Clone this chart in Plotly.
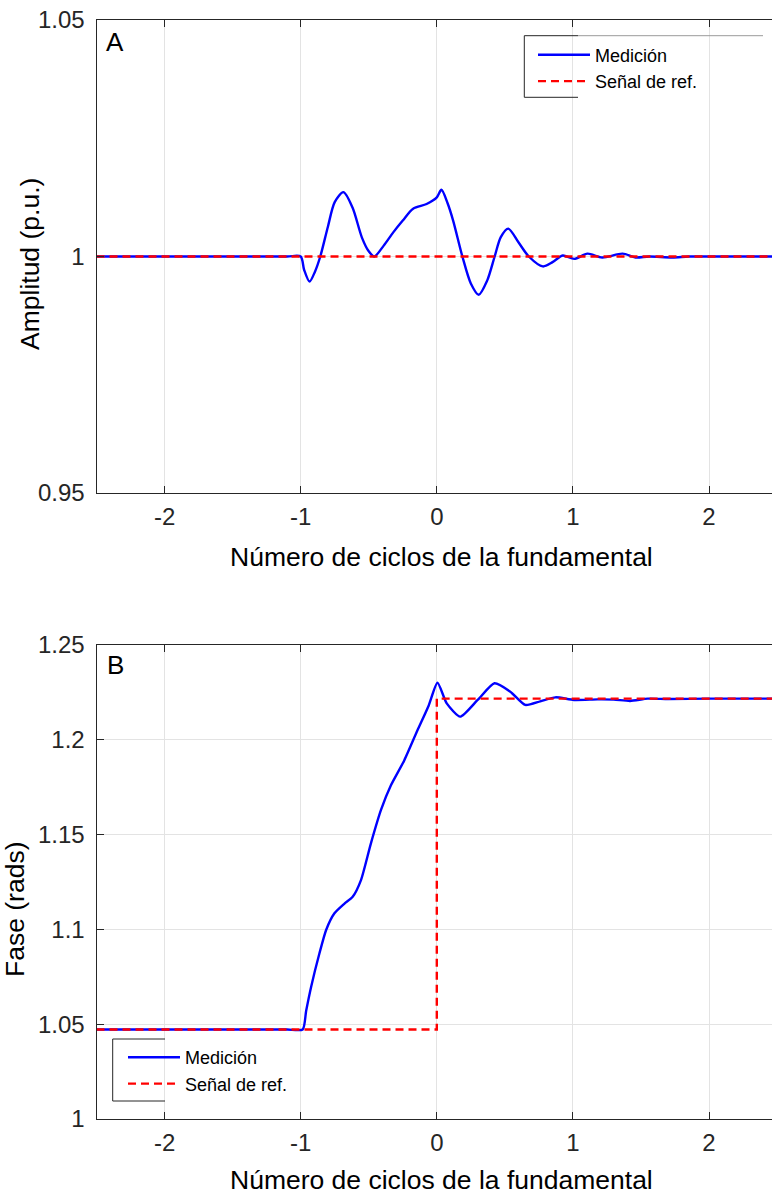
import plotly.graph_objects as go

W, H = 772, 1201

# ---------------- data ----------------
# Panel A: amplitude
amp_x = [-2.5, -2.0, -1.5, -1.1, -1.0, -0.975, -0.935, -0.895, -0.856, -0.8, -0.75, -0.686,
         -0.62, -0.55, -0.5, -0.459, -0.39, -0.32, -0.25, -0.174, -0.075, 0.0, 0.034, 0.08,
         0.12, 0.188, 0.25, 0.308, 0.37, 0.425, 0.47, 0.525, 0.6, 0.676, 0.779, 0.85, 0.925,
         1.01, 1.107, 1.215, 1.365, 1.46, 1.56, 1.73, 1.85, 2.0, 2.25, 2.5]
amp_meas = [1.0, 1.0, 1.0, 1.0, 1.0, 0.9972, 0.9947, 0.9968, 1.0, 1.0063, 1.0115, 1.0136,
            1.0104, 1.004, 1.0011, 1.0, 1.0023, 1.0051, 1.0076, 1.0101, 1.0111, 1.0125, 1.0141, 1.0112,
            1.0076, 1.0, 0.9943, 0.9919, 0.9949, 1.0, 1.0041, 1.0059, 1.003, 1.0, 0.9979, 0.9988, 1.0002,
            0.9995, 1.0006, 0.9998, 1.0006, 0.9998, 1.0, 0.9998, 1.0, 1.0, 1.0, 1.0]
amp_ref_x = [-2.5, 2.5]
amp_ref = [1.0, 1.0]

# Panel B: phase
ph_x = [-2.5, -2.0, -1.5, -1.1, -0.985, -0.96, -0.923, -0.862, -0.813, -0.752, -0.68, -0.618,
        -0.557, -0.484, -0.41, -0.337, -0.24, -0.142, -0.06, 0.005, 0.073, 0.172, 0.3, 0.424,
        0.54, 0.65, 0.76, 0.872, 1.007, 1.18, 1.3, 1.42, 1.55, 1.7, 2.0, 2.25, 2.5]
ph_meas = [1.0472, 1.0472, 1.0472, 1.0472, 1.0472, 1.057, 1.0698, 1.0874, 1.0997, 1.1085, 1.1135,
           1.1172, 1.126, 1.1454, 1.163, 1.176, 1.189, 1.205, 1.218, 1.2301, 1.2192, 1.2122, 1.221,
           1.2298, 1.2254, 1.2184, 1.2203, 1.2224, 1.221, 1.2213, 1.2212, 1.2205, 1.2217, 1.2215,
           1.2217, 1.2217, 1.2217]
ph_ref_x = [-2.5, 0.0, 0.0, 2.5]
ph_ref = [1.0472, 1.0472, 1.2217, 1.2217]

x_ticks = [-2, -1, 0, 1, 2]
x_ticktext = ["-2", "-1", "0", "1", "2"]
amp_ticks = [0.95, 1.0, 1.05]
amp_ticktext = ["0.95", "1", "1.05"]
ph_ticks = [1.0, 1.05, 1.1, 1.15, 1.2, 1.25]
ph_ticktext = ["1", "1.05", "1.1", "1.15", "1.2", "1.25"]

names = ["Medición", "Señal de ref."]
x_title = "Número de ciclos de la fundamental"

# ---------------- helpers ----------------
def px(x):
    return x / W

def py(y):
    return 1 - y / H

FONT = "Liberation Sans, Arial, sans-serif"
AX = "#262626"
GRID = "#e3e3e3"
BLUE = "#0000ff"
RED = "#ff0000"

fig = go.Figure()

fig.add_trace(go.Scatter(x=amp_x, y=amp_meas, mode="lines", name=names[0],
                         line=dict(color=BLUE, width=2.4, shape="spline", smoothing=0.8),
                         xaxis="x", yaxis="y", legend="legend"))
fig.add_trace(go.Scatter(x=amp_ref_x, y=amp_ref, mode="lines", name=names[1],
                         line=dict(color=RED, width=2.4, dash="8px,5px"),
                         xaxis="x", yaxis="y", legend="legend"))
fig.add_trace(go.Scatter(x=ph_x, y=ph_meas, mode="lines", name=names[0],
                         line=dict(color=BLUE, width=2.4, shape="spline", smoothing=0.6),
                         xaxis="x2", yaxis="y2", legend="legend2"))
fig.add_trace(go.Scatter(x=ph_ref_x, y=ph_ref, mode="lines", name=names[1],
                         line=dict(color=RED, width=2.4, dash="8px,5px"),
                         xaxis="x2", yaxis="y2", legend="legend2"))

xl = 96.5
x_range = [-2.5, (W - 436.8) / ((436.8 - 96.5) / 2.5)]

common_x = dict(range=x_range, tickvals=x_ticks, ticktext=x_ticktext, automargin=False,
                showgrid=True, gridcolor=GRID, gridwidth=1, zeroline=False,
                showline=True, linecolor=AX, linewidth=1, mirror="ticks",
                ticks="inside", ticklen=7, tickcolor=AX, tickwidth=1,
                tickfont=dict(family=FONT, size=24, color=AX), ticklabelstandoff=2,
                domain=[px(xl), 1])
common_y = dict(showgrid=True, gridcolor=GRID, gridwidth=1, zeroline=False, automargin=False,
                showline=True, linecolor=AX, linewidth=1, mirror=False,
                ticks="inside", ticklen=7, tickcolor=AX, tickwidth=1,
                tickfont=dict(family=FONT, size=24, color=AX), ticklabelstandoff=6)

fig.update_layout(
    template="none",
    width=W, height=H,
    margin=dict(l=0, r=0, t=0, b=0, pad=0, autoexpand=False),
    paper_bgcolor="white", plot_bgcolor="white",
    font=dict(family=FONT, color="#000000"),
    xaxis=dict(anchor="y", **common_x),
    yaxis=dict(anchor="x", domain=[py(493), py(20)], range=[0.95, 1.05],
               tickvals=amp_ticks, ticktext=amp_ticktext, **common_y),
    xaxis2=dict(anchor="y2", **common_x),
    yaxis2=dict(anchor="x2", domain=[py(1119), py(645)], range=[1.0, 1.25],
                tickvals=ph_ticks, ticktext=ph_ticktext, **common_y),
    legend=dict(x=px(533), y=py(36.5), xanchor="left", yanchor="top",
                bgcolor="rgba(0,0,0,0)", borderwidth=0, itemwidth=52,
                font=dict(family=FONT, size=18, color="#000000"), tracegroupgap=0),
    legend2=dict(x=px(123), y=py(1039), xanchor="left", yanchor="top",
                 bgcolor="rgba(0,0,0,0)", borderwidth=0, itemwidth=52,
                 font=dict(family=FONT, size=18, color="#000000"), tracegroupgap=0),
    showlegend=True,
)

shapes = []
# legend A box (partial, as in reference)
shapes.append(dict(type="rect", xref="paper", yref="paper", x0=px(524.3), x1=px(763),
                   y0=py(100), y1=py(27), fillcolor="white", line=dict(width=0), layer="between"))
shapes.append(dict(type="line", xref="paper", yref="paper", x0=px(524.3), x1=px(524.3),
                   y0=py(97.3), y1=py(35.7), line=dict(color=AX, width=1), layer="above"))
shapes.append(dict(type="line", xref="paper", yref="paper", x0=px(524.3), x1=px(578),
                   y0=py(35.7), y1=py(35.7), line=dict(color=AX, width=1), layer="above"))
shapes.append(dict(type="line", xref="paper", yref="paper", x0=px(578), x1=px(763),
                   y0=py(35.7), y1=py(35.7), line=dict(color="#9a9a9a", width=1), layer="above"))
shapes.append(dict(type="line", xref="paper", yref="paper", x0=px(524.3), x1=px(578),
                   y0=py(97.3), y1=py(97.3), line=dict(color=AX, width=1), layer="above"))
# legend B box
shapes.append(dict(type="rect", xref="paper", yref="paper", x0=px(112.7), x1=px(351),
                   y0=py(1110), y1=py(1032), fillcolor="white", line=dict(width=0), layer="between"))
shapes.append(dict(type="line", xref="paper", yref="paper", x0=px(112.7), x1=px(112.7),
                   y0=py(1101), y1=py(1039), line=dict(color=AX, width=1), layer="above"))
shapes.append(dict(type="line", xref="paper", yref="paper", x0=px(112.7), x1=px(165),
                   y0=py(1039), y1=py(1039), line=dict(color=AX, width=1), layer="above"))
shapes.append(dict(type="line", xref="paper", yref="paper", x0=px(112.7), x1=px(165),
                   y0=py(1101), y1=py(1101), line=dict(color=AX, width=1), layer="above"))
fig.update_layout(shapes=shapes)

ann = []
ann.append(dict(text="A", x=px(115), y=py(42), xref="paper", yref="paper", showarrow=False,
                xanchor="center", yanchor="middle", font=dict(family=FONT, size=26, color="#000")))
ann.append(dict(text="B", x=px(115), y=py(665), xref="paper", yref="paper", showarrow=False,
                xanchor="center", yanchor="middle", font=dict(family=FONT, size=26, color="#000")))
ann.append(dict(text=x_title, x=px(441), y=py(557), xref="paper", yref="paper", showarrow=False,
                xanchor="center", yanchor="middle", font=dict(family=FONT, size=26.5, color="#000")))
ann.append(dict(text=x_title, x=px(441), y=py(1180), xref="paper", yref="paper", showarrow=False,
                xanchor="center", yanchor="middle", font=dict(family=FONT, size=26.5, color="#000")))
ann.append(dict(text="Amplitud (p.u.)", x=px(30), y=py(264), xref="paper", yref="paper",
                showarrow=False, textangle=-90, xanchor="center", yanchor="middle",
                font=dict(family=FONT, size=26.5, color="#000")))
ann.append(dict(text="Fase (rads)", x=px(15), y=py(910), xref="paper", yref="paper",
                showarrow=False, textangle=-90, xanchor="center", yanchor="middle",
                font=dict(family=FONT, size=26.5, color="#000")))
fig.update_layout(annotations=ann)

fig.write_html("out.html")
